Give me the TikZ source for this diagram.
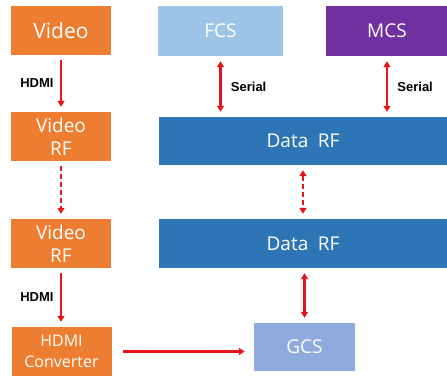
\documentclass[tikz,border=0pt]{standalone}
\usepackage{fontspec}
\setmainfont{Open Sans}
\newfontfamily\labelfont{Liberation Sans}
\usetikzlibrary{arrows.meta,positioning}

\definecolor{vidorange}{HTML}{ED7D31}
\definecolor{fcsblue}{HTML}{9DC3E6}
\definecolor{mcspurple}{HTML}{7030A0}
\definecolor{rfblue}{HTML}{2E75B6}
\definecolor{gcsblue}{HTML}{8FAADC}
\definecolor{linkred}{HTML}{E8141B}

\begin{document}
\begin{tikzpicture}[x=1pt,y=-1pt,
  box/.style={inner sep=0pt,align=center,text=white,font=\fontsize{19}{23}\selectfont},
  vidbox/.style={box,fill=vidorange,minimum width=100pt,minimum height=49pt},
  rfbox/.style={box,fill=rfblue,minimum width=288pt,minimum height=48pt},
  link/.style={linkred,line width=2.2pt,-{Triangle[length=6pt,width=7pt]},shorten <=5pt,shorten >=5pt},
  twolink/.style={link,{Triangle[length=6pt,width=7pt]}-{Triangle[length=6pt,width=7pt]}},
  tag/.style={text=black,font=\labelfont\bfseries\fontsize{13}{15}\selectfont}]
\useasboundingbox (0,0) rectangle (447,375);
% left column
\node[vidbox,font=\fontsize{21}{23}\selectfont] (video) at (61,30.5) {Video};
\node[vidbox] (vrfa) at (61,136.5) {Video\\RF};
\node[vidbox] (vrfb) at (61,243.5) {Video\\RF};
\node[vidbox,font=\fontsize{16}{21}\selectfont] (conv) at (61.5,351.5) {HDMI\\Converter};
% right column
\node[box,fill=fcsblue,minimum width=125pt,minimum height=50pt] (fcs) at (220.5,31) {FCS};
\node[box,fill=mcspurple,minimum width=122pt,minimum height=50pt] (mcs) at (387,31) {MCS};
\node[rfbox] (drfa) at (303,141) {Data\enspace RF};
\node[rfbox,minimum height=49pt] (drfb) at (303,243.5) {Data\enspace RF};
\node[box,fill=gcsblue,minimum width=101pt,minimum height=48pt] (gcs) at (304.5,347) {GCS};
% links
\draw[link] (video) -- node[tag,left=3pt] {HDMI} (vrfa);
\draw[link,dash pattern=on 5pt off 3pt] (vrfa) -- (vrfb);
\draw[link] (vrfb.south) -- node[tag,left=3pt] {HDMI} (vrfb.south |- conv.north);
\draw[twolink] (fcs.south) -- node[tag,right=6pt] {Serial} (fcs.south |- drfa.north);
\draw[twolink] (mcs.south) -- node[tag,right=6pt] {Serial} (mcs.south |- drfa.north);
\draw[twolink,dash pattern=on 5pt off 3pt] (drfa) -- (drfb);
\draw[twolink] (gcs.north |- drfb.south) -- (gcs.north);
\draw[link,shorten <=11pt,shorten >=9pt] (conv.east) -- (conv.east -| gcs.west);
\end{tikzpicture}
\end{document}
